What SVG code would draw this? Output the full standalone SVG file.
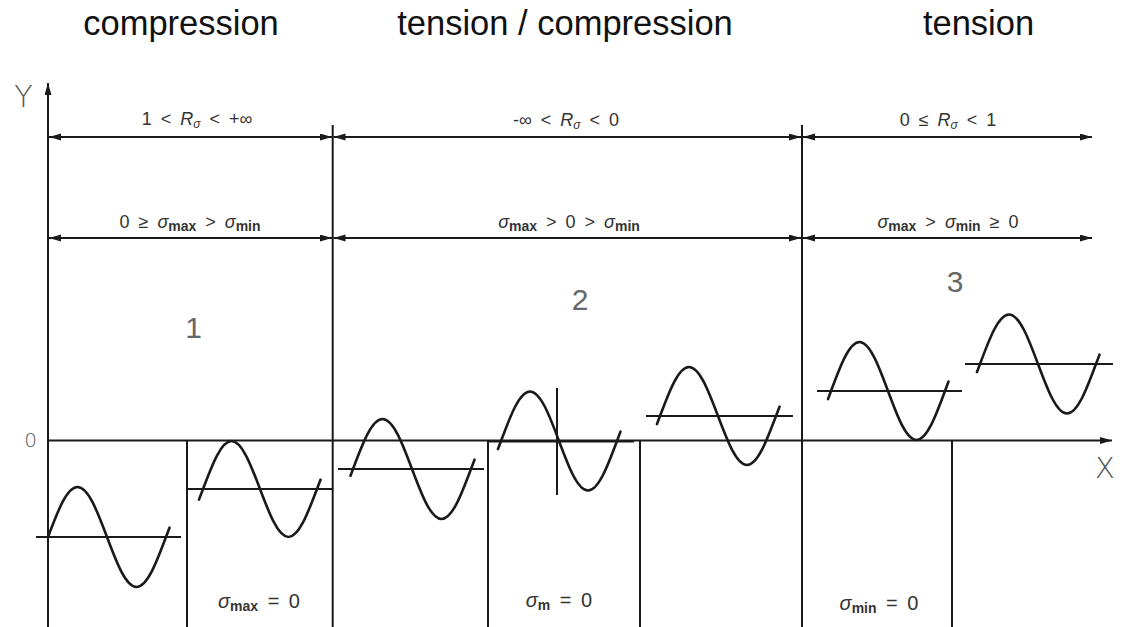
<svg xmlns="http://www.w3.org/2000/svg" width="1128" height="627" viewBox="0 0 1128 627">
<style>
.ln{stroke:#1a1a1a;stroke-width:2;fill:none}
.wave{stroke:#1a1a1a;stroke-width:2.6;fill:none;stroke-linecap:round}
.title{font-family:"Liberation Sans",Arial,sans-serif;font-size:34.5px;fill:#111;text-anchor:middle}
.dim{font-family:"Liberation Sans Narrow","Liberation Sans",sans-serif;font-size:18px;fill:#333;text-anchor:middle;word-spacing:4px}
.lab{font-family:"Liberation Sans Narrow","Liberation Sans",sans-serif;font-size:20px;fill:#333;text-anchor:middle;word-spacing:4px}
.num{font-family:"Liberation Sans Narrow","Liberation Sans",sans-serif;font-size:30px;fill:#666;text-anchor:middle}
.ax{font-family:"DejaVu Sans",sans-serif;font-weight:200;fill:#555;text-anchor:middle}
.it{font-style:italic}
.sub{font-size:12px}
.sb{font-size:14px;font-weight:bold}
</style>
<defs>
<marker id="ah" markerUnits="userSpaceOnUse" markerWidth="13" markerHeight="8" refX="12" refY="3.5" orient="auto-start-reverse">
<path d="M0,0 L12,3.5 L0,7 z" fill="#1a1a1a"/>
</marker>
</defs>

<g id="titles">
<text class="title" x="181" y="35">compression</text>
<text class="title" x="565" y="35">tension / compression</text>
<text class="title" x="978.5" y="35">tension</text>
</g>

<g id="axes">
<line class="ln" x1="48" y1="627" x2="48" y2="83" marker-end="url(#ah)"/>
<line class="ln" x1="48" y1="440.5" x2="1112" y2="440.5" marker-end="url(#ah)"/>
<text class="ax" x="23.5" y="107" font-size="30">Y</text>
<text class="ax" x="1105" y="478" font-size="29">X</text>
<text class="ax" x="30.5" y="447" font-size="20">0</text>
</g>

<g id="connectors">
<line class="ln" x1="332.7" y1="125" x2="332.7" y2="627"/>
<line class="ln" x1="802" y1="125" x2="802" y2="627"/>
<line class="ln" x1="187" y1="440" x2="187" y2="627"/>
<line class="ln" x1="488" y1="440" x2="488" y2="627"/>
<line class="ln" x1="640" y1="440" x2="640" y2="627"/>
<line class="ln" x1="952" y1="440" x2="952" y2="627"/>
<line class="ln" x1="49" y1="137" x2="332" y2="137" marker-start="url(#ah)" marker-end="url(#ah)"/>
<line class="ln" x1="333.5" y1="137" x2="801" y2="137" marker-start="url(#ah)" marker-end="url(#ah)"/>
<line class="ln" x1="803" y1="137" x2="1092" y2="137" marker-start="url(#ah)" marker-end="url(#ah)"/>
<line class="ln" x1="49" y1="238" x2="332" y2="238" marker-start="url(#ah)" marker-end="url(#ah)"/>
<line class="ln" x1="333.5" y1="238" x2="801" y2="238" marker-start="url(#ah)" marker-end="url(#ah)"/>
<line class="ln" x1="803" y1="238" x2="1092" y2="238" marker-start="url(#ah)" marker-end="url(#ah)"/>
</g>

<g id="region1">
<text class="dim" x="197" y="125">1 &lt; <tspan class="it">R</tspan><tspan class="sub it" dy="3">σ</tspan><tspan dy="-3"> &lt; +∞</tspan></text>
<text class="dim" x="190" y="228">0 ≥ <tspan class="it">σ</tspan><tspan class="sb" dy="3">max</tspan><tspan dy="-3"> &gt; </tspan><tspan class="it">σ</tspan><tspan class="sb" dy="3">min</tspan></text>
<text class="num" x="193.5" y="338">1</text>
<line class="ln" x1="36" y1="537" x2="181" y2="537"/>
<path class="wave" d="M48,537 C57.62,511.4 66.82,487 77.5,487 C88.18,487 97.38,511.4 107,537 C116.62,562.6 125.82,587 136.5,587 C147.18,587 156.38,562.6 166,537 L169.5,527.7"/>
<line class="ln" x1="188" y1="489" x2="332" y2="489"/>
<path class="wave" d="M199,499.6 L203,489 C212.29,464.4 221.19,441 231.5,441 C241.81,441 250.71,464.4 260,489 C269.29,513.6 278.19,537 288.5,537 C298.81,537 307.71,513.6 317,489 L320.5,479.7"/>
<text class="lab" x="259" y="608"><tspan class="it">σ</tspan><tspan class="sb" dy="3">max</tspan><tspan dy="-3"> = 0</tspan></text>
</g>

<g id="region2">
<text class="dim" x="566" y="126">-∞ &lt; <tspan class="it">R</tspan><tspan class="sub it" dy="3">σ</tspan><tspan dy="-3"> &lt; 0</tspan></text>
<text class="dim" x="569" y="228"><tspan class="it">σ</tspan><tspan class="sb" dy="3">max</tspan><tspan dy="-3"> &gt; 0 &gt; </tspan><tspan class="it">σ</tspan><tspan class="sb" dy="3">min</tspan></text>
<text class="num" x="580" y="310">2</text>
<line class="ln" x1="338" y1="469" x2="484" y2="469"/>
<path class="wave" d="M350.5,475.7 L353,469 C362.62,443.4 371.82,419 382.5,419 C393.18,419 402.38,443.4 412,469 C421.62,494.6 430.82,519 441.5,519 C452.18,519 461.38,494.6 471,469 L474.5,459.7"/>
<line class="ln" x1="487" y1="441.5" x2="634" y2="441.5" stroke-width="3.5"/>
<line class="ln" x1="557" y1="388" x2="557" y2="495"/>
<path class="wave" d="M498,449 L501,441 C510.46,415.64 519.5,391.5 530,391.5 C540.5,391.5 549.54,415.64 559,441 C568.46,466.36 577.5,490.5 588,490.5 C598.5,490.5 607.54,466.36 617,441 L620.5,431.6"/>
<line class="ln" x1="646" y1="416" x2="793" y2="416"/>
<path class="wave" d="M657,424 L660,416 C669.46,390.9 678.5,367 689,367 C699.5,367 708.54,390.9 718,416 C727.46,441.1 736.5,465 747,465 C757.5,465 766.54,441.1 776,416 L779.5,406.7"/>
<text class="lab" x="559" y="607"><tspan class="it">σ</tspan><tspan class="sb" dy="3">m</tspan><tspan dy="-3"> = 0</tspan></text>
</g>

<g id="region3">
<text class="dim" x="948" y="126">0 ≤ <tspan class="it">R</tspan><tspan class="sub it" dy="3">σ</tspan><tspan dy="-3"> &lt; 1</tspan></text>
<text class="dim" x="948" y="228"><tspan class="it">σ</tspan><tspan class="sb" dy="3">max</tspan><tspan dy="-3"> &gt; </tspan><tspan class="it">σ</tspan><tspan class="sb" dy="3">min</tspan><tspan dy="-3"> ≥ 0</tspan></text>
<text class="num" x="955" y="292">3</text>
<line class="ln" x1="817" y1="391" x2="962" y2="391"/>
<path class="wave" d="M828,399.1 L831,391 C840.29,365.9 849.19,342 859.5,342 C869.81,342 878.71,365.9 888,391 C897.29,416.1 906.19,440 916.5,440 C926.81,440 935.71,416.1 945,391 L948.5,381.5"/>
<line class="ln" x1="965" y1="364" x2="1113" y2="364"/>
<path class="wave" d="M977,372 L980,364 C989.46,338.64 998.5,314.5 1009,314.5 C1019.5,314.5 1028.54,338.64 1038,364 C1047.46,389.36 1056.5,413.5 1067,413.5 C1077.5,413.5 1086.54,389.36 1096,364 L1099.5,354.6"/>
<text class="lab" x="879" y="610"><tspan class="it">σ</tspan><tspan class="sb" dy="3">min</tspan><tspan dy="-3"> = 0</tspan></text>
</g>
</svg>
